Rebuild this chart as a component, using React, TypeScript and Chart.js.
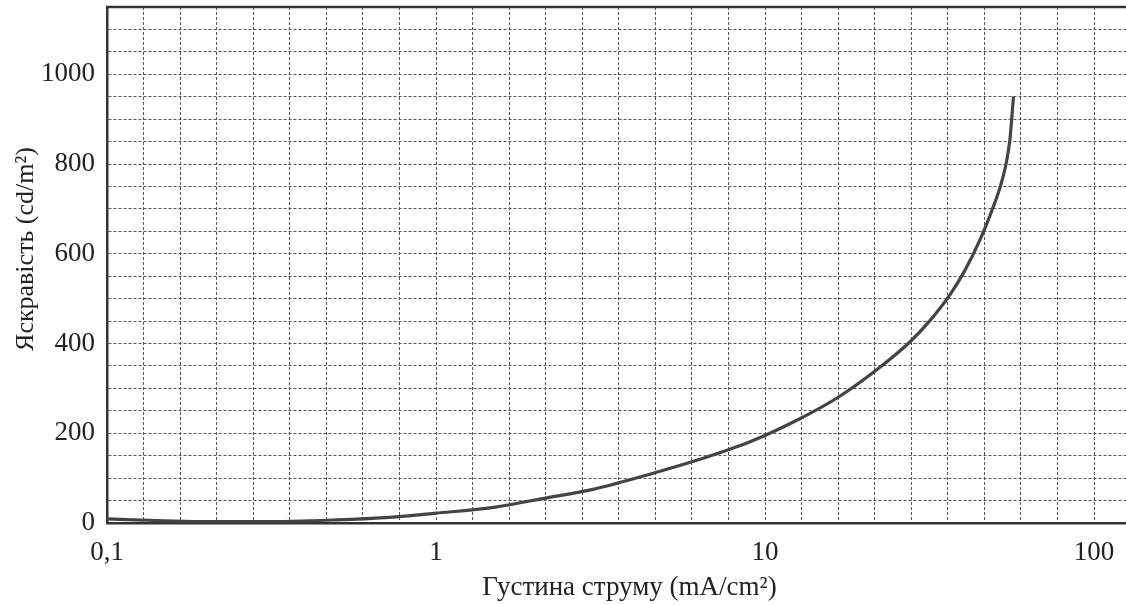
import React, { useEffect, useRef } from "react";
import { Chart, registerables } from "chart.js";

Chart.register(...registerables);

// Current density (mA/cm²) and luminance (cd/m²)
const currentDensity = [0.1, 0.15, 0.2, 0.3, 0.5, 0.7, 1, 1.5, 2.13, 3, 4.57, 6.34, 9, 12.8, 16.5, 21.8, 27.6, 31.7, 36.5, 40.5, 45, 49, 51.8, 54, 55.5, 56.9];
const luminance = [9, 5, 3, 3, 7, 12, 22, 35, 55, 75, 111, 142, 181, 233, 278, 341, 404, 451, 509, 563, 631, 698, 748, 800, 855, 950];

const xMin = 0.1;
const xMax = 150;
const yMin = 0;
const yMax = 1150;
const yGridStep = 50;
const yLabelStep = 200;
const xGridPerDecade = 9;
const xTickLabels: Record<string, string> = { "0": "0,1", "9": "1", "18": "10", "27": "100" };

const xTitle = "Густина струму (mA/cm²)";
const yTitle = "Яскравість (cd/m²)";

const FONT = "'Liberation Serif', 'Times New Roman', serif";

export default function App() {
  const ref = useRef<HTMLCanvasElement | null>(null);

  useEffect(() => {
    if (!ref.current) return;
    const frameAndTitle = {
      id: "frameAndTitle",
      afterDraw(chart: any) {
        const { ctx, chartArea } = chart;
        ctx.save();
        ctx.strokeStyle = "#333";
        ctx.lineWidth = 2.5;
        ctx.beginPath();
        ctx.moveTo(chartArea.left - 1, chartArea.top);
        ctx.lineTo(chartArea.right, chartArea.top);
        ctx.stroke();
        ctx.translate(26, 249);
        ctx.rotate(-Math.PI / 2);
        ctx.fillStyle = "#222";
        ctx.font = `26px ${FONT}`;
        ctx.textAlign = "center";
        ctx.textBaseline = "middle";
        ctx.fillText(yTitle, 0, 0);
        ctx.restore();
      },
    };
    const chart = new Chart(ref.current, {
      type: "line",
      data: {
        datasets: [
          {
            data: currentDensity.map((x, i) => ({ x, y: luminance[i] })),
            borderColor: "#444",
            borderWidth: 3.2,
            pointRadius: 0,
            cubicInterpolationMode: "monotone",
            fill: false,
          },
        ],
      },
      options: {
        animation: false,
        responsive: false,
        layout: { padding: { top: 7, right: 0, bottom: 0, left: 0 } },
        plugins: { legend: { display: false }, tooltip: { enabled: false } },
        scales: {
          x: {
            type: "logarithmic",
            min: xMin,
            max: xMax,
            afterBuildTicks: (scale: any) => {
              const ticks = [];
              for (let k = 0; ; k++) {
                const v = Math.pow(10, Math.log10(xMin) + k / xGridPerDecade);
                if (v > xMax) break;
                ticks.push({ value: v });
              }
              scale.ticks = ticks;
            },
            afterFit: (scale: any) => {
              scale.height = 82;
              scale.paddingLeft = 0;
              scale.paddingRight = 0;
            },
            ticks: {
              autoSkip: false,
              maxRotation: 0,
              padding: 14,
              color: "#222",
              font: { family: FONT, size: 27 },
              callback: function (this: any, value: any, index: number) {
                return xTickLabels[String(index)] ?? "";
              },
            },
            grid: { color: "#555", lineWidth: 1, drawTicks: false },
            border: { display: true, color: "#333", width: 2.5, dash: [3, 2] },
            title: {
              display: true,
              text: xTitle,
              color: "#222",
              font: { family: FONT, size: 27 },
              padding: { top: 0, bottom: 1 },
            },
          },
          y: {
            type: "linear",
            min: yMin,
            max: yMax,
            afterFit: (scale: any) => {
              scale.width = 107;
              scale.paddingTop = 0;
              scale.paddingBottom = 0;
            },
            ticks: {
              stepSize: yGridStep,
              autoSkip: false,
              padding: 12,
              color: "#222",
              font: { family: FONT, size: 27 },
              callback: (value: any) => (Number(value) % yLabelStep === 0 ? String(value) : ""),
            },
            grid: { color: "#555", lineWidth: 1, drawTicks: false },
            border: { display: true, color: "#333", width: 2.5, dash: [3, 2] },
          },
        },
      },
      plugins: [frameAndTitle],
    } as any);
    return () => chart.destroy();
  }, []);

  return (
    <div style={{ position: "absolute", left: 0, top: 0, width: 1126, height: 605, overflow: "hidden", background: "#fff" }}>
      <canvas ref={ref} width={1152} height={605} style={{ display: "block" }} />
    </div>
  );
}
